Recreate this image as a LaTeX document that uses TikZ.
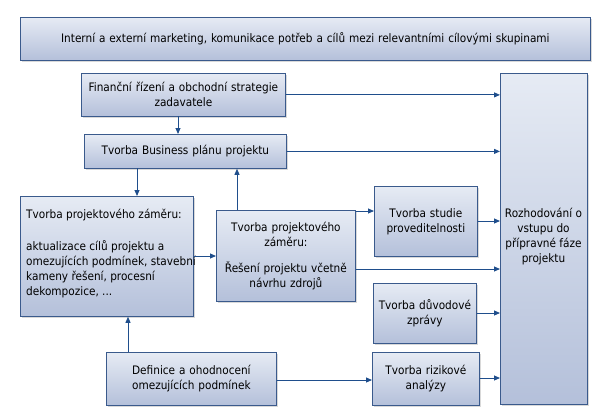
\documentclass[tikz,border=0pt]{standalone}
\usepackage{fontspec}
\setmainfont{DejaVu Sans Condensed}
\usetikzlibrary{arrows.meta,shadows}
\definecolor{bd}{HTML}{3A5A8C}
\definecolor{ar}{HTML}{1F4E8C}
\definecolor{ftop}{HTML}{E6EBF4}
\definecolor{fbot}{HTML}{B4C0DA}
\tikzset{
  txt/.style={font=\fontsize{11.7}{15}\selectfont,align=center,inner sep=0pt},
  bx/.style={draw=bd,line width=0.8pt,top color=ftop,bottom color=fbot,
    drop shadow={shadow xshift=1.2pt,shadow yshift=-1.2pt,fill=gray!50,opacity=.6},
    txt,inner sep=2pt},
  ar/.style={draw=ar,line width=0.9pt,-{Triangle[length=6pt,width=5pt]}}
}
\newcommand{\bxat}[6]{\node[bx,minimum width=#4-#2,minimum height=#5-#3,text width=#4-#2-4,anchor=north west] (#1) at (#2,-#3) {#6};}
\begin{document}
\begin{tikzpicture}[x=1pt,y=1pt]
\useasboundingbox (0,0) rectangle (605,-420);
\bxat{top}{20}{17}{590}{60}{Interní a externí marketing, komunikace potřeb a cílů mezi relevantními cílovými skupinami}
\bxat{fin}{81}{73}{285}{116}{Finanční řízení a obchodní strategie\\zadavatele}
\bxat{bus}{84}{134}{286}{168}{Tvorba Business plánu projektu}
\bxat{lz}{20}{196}{193}{316}{}
\node[txt,align=left,anchor=north west] (lzt) at (26,-209) {Tvorba projektového záměru:\\[17pt]aktualizace cílů projektu a\\omezujících podmínek, stavební\\kameny řešení, procesní\\dekompozice, ...};
\bxat{mz}{216}{210}{355}{301}{Tvorba projektového\\záměru:\\[11pt]Řešení projektu včetně\\návrhu zdrojů}
\bxat{st}{374}{186}{477}{256}{Tvorba studie\\proveditelnosti}
\bxat{du}{373}{283}{476}{343}{Tvorba důvodové\\zprávy}
\bxat{ri}{372}{352}{479}{405}{Tvorba rizikové\\analýzy}
\bxat{de}{106}{352}{276}{405}{Definice a ohodnocení\\omezujících podmínek}
\bxat{ro}{500}{73}{587}{404}{}
\node[txt] (rot) at (543.5,-237) {Rozhodování o\\vstupu do\\přípravné fáze\\projektu};
\draw[ar] (fin.east) -- (fin.east -| ro.west);
\draw[ar] (bus.east) -- (bus.east -| ro.west);
\draw[ar] (178,-116) coordinate (a1) -- (a1 |- bus.north);
\draw[ar] (137,-168) coordinate (a2) -- (a2 |- lz.north);
\draw[ar] (237,-210) coordinate (a3) -- (a3 |- bus.south);
\draw[ar] (lz.east |- 0,-256) coordinate (a4) -- (a4 -| mz.west);
\draw[ar] (mz.east |- 0,-211) coordinate (a5) -- (a5 -| st.west);
\draw[ar] (st.east |- 0,-221) coordinate (a6) -- (a6 -| ro.west);
\draw[ar] (mz.east |- 0,-269) coordinate (a7) -- (a7 -| ro.west);
\draw[ar] (du.east |- 0,-313) coordinate (a8) -- (a8 -| ro.west);
\draw[ar] (de.east |- 0,-380) coordinate (a9) -- (a9 -| ri.west);
\draw[ar] (ri.east |- 0,-378) coordinate (a10) -- (a10 -| ro.west);
\draw[ar] (128,-352) coordinate (a11) -- (a11 |- lz.south);
\end{tikzpicture}
\end{document}
